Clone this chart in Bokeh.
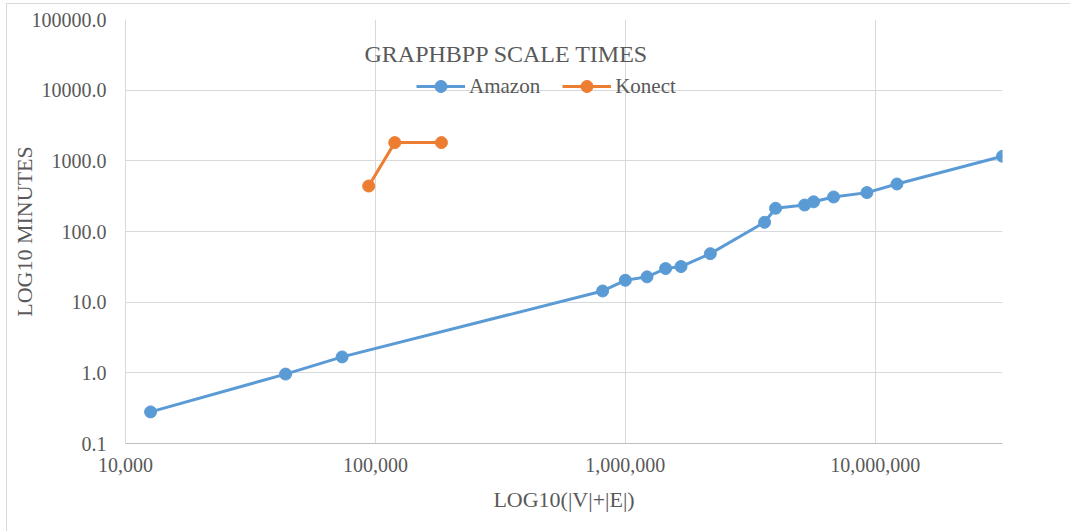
from bokeh.plotting import figure
from bokeh.models import FixedTicker, Label, Legend, LegendItem, InlineStyleSheet
from bokeh.embed import file_html
from bokeh.resources import INLINE

# ---- data ----
amazon_size = [12600, 43700, 73600, 811000, 1000000, 1221000, 1449000, 1670000,
               2188000, 3607000, 3991000, 5215000, 5665000, 6811000, 9261000,
               12210000, 32290000]
amazon_minutes = [0.28, 0.96, 1.68, 14.4, 20.4, 22.8, 29.9, 31.9, 48.6, 135,
                  213, 237, 263, 308, 355, 470, 1159]
konect_size = [94000, 119500, 183700]
konect_minutes = [440, 1811, 1811]

x_tick_values = [10000, 100000, 1000000, 10000000]
x_tick_labels = ["10,000", "100,000", "1,000,000", "10,000,000"]
y_tick_values = [0.1, 1, 10, 100, 1000, 10000, 100000]
y_tick_labels = ["0.1", "1.0", "10.0", "100.0", "1000.0", "10000.0", "100000.0"]

series_names = ["Amazon", "Konect"]
title_text = "GRAPHBPP SCALE TIMES"
x_label = "LOG10(|V|+|E|)"
y_label = "LOG10 MINUTES"

FONT = "Liberation Serif"
TXT = "#595959"
BLUE = "#5B9BD5"
ORANGE = "#ED7D31"
GRID = "#D9D9D9"

border_css = InlineStyleSheet(css="""
:host { position: relative; }
:host::after {
  content: "";
  position: absolute;
  left: 6px; top: 3px; right: -20px; bottom: -20px;
  border: 1.5px solid #D9D9D9;
  pointer-events: none;
}
""")

p = figure(width=1070, height=531, x_axis_type="log", y_axis_type="log",
           x_range=(x_tick_values[0], max(amazon_size)),
           y_range=(y_tick_values[0], y_tick_values[-1]),
           output_backend="svg", toolbar_location=None, title=None,
           min_border_left=125, min_border_right=68, min_border_top=19,
           min_border_bottom=88, stylesheets=[border_css])
p.outline_line_color = None
p.background_fill_color = "white"
p.border_fill_color = "white"

# axes
p.xaxis.ticker = FixedTicker(ticks=x_tick_values, minor_ticks=[])
p.yaxis.ticker = FixedTicker(ticks=y_tick_values, minor_ticks=[])
p.xaxis.major_label_overrides = {v: l for v, l in zip(x_tick_values, x_tick_labels)}
p.yaxis.major_label_overrides = {v: l for v, l in zip(y_tick_values, y_tick_labels)}
for ax in (p.xaxis, p.yaxis):
    ax.major_tick_line_color = None
    ax.minor_tick_line_color = None
    ax.major_tick_out = 0
    ax.major_tick_in = 0
    ax.major_label_text_font = FONT
    ax.major_label_text_font_size = "20px"
    ax.major_label_text_color = TXT
    ax.axis_label_text_font = FONT
    ax.axis_label_text_font_size = "22px"
    ax.axis_label_text_font_style = "normal"
    ax.axis_label_text_color = TXT
p.xaxis.axis_line_color = "#BFBFBF"
p.yaxis.axis_line_color = GRID
p.xaxis.major_label_standoff = 14
p.yaxis.major_label_standoff = 19
p.xaxis.axis_label = x_label
p.yaxis.axis_label = y_label
p.xaxis.axis_label_standoff = 12
p.yaxis.axis_label_standoff = -8

p.xgrid.grid_line_color = GRID
p.ygrid.grid_line_color = GRID
p.xgrid.grid_line_width = 1
p.ygrid.grid_line_width = 1

# series
la = p.line(amazon_size, amazon_minutes, line_color=BLUE, line_width=3)
sa = p.scatter(amazon_size, amazon_minutes, marker="circle", size=12,
               fill_color=BLUE, line_color=BLUE)
lk = p.line(konect_size, konect_minutes, line_color=ORANGE, line_width=3)
sk = p.scatter(konect_size, konect_minutes, marker="circle", size=12,
               fill_color=ORANGE, line_color=ORANGE)

legend = Legend(items=[LegendItem(label=series_names[0], renderers=[la, sa]),
                       LegendItem(label=series_names[1], renderers=[lk, sk])],
                orientation="horizontal", location=(291, 342),
                glyph_width=49, glyph_height=30, label_standoff=4, spacing=22,
                padding=0, margin=0, border_line_color=None,
                background_fill_alpha=0,
                label_text_font=FONT, label_text_font_size="21px",
                label_text_color=TXT)
p.add_layout(legend, "center")

title = Label(x=381, y=390, x_units="screen", y_units="screen", text=title_text,
              text_align="center", text_baseline="middle",
              text_font=FONT, text_font_size="24px", text_color=TXT)
p.add_layout(title)

open("out.html", "w").write(file_html(p, INLINE))
